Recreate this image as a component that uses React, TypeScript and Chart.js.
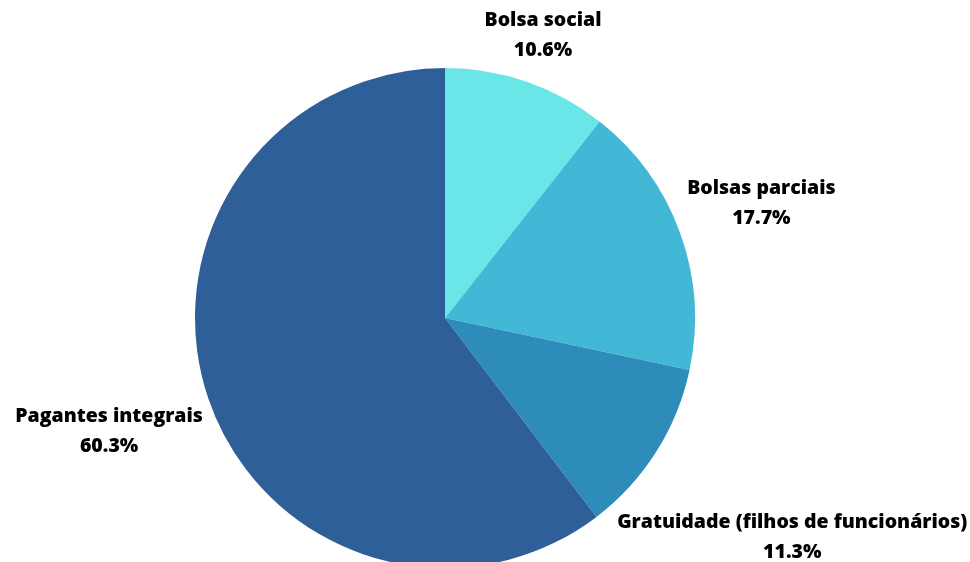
import React, { useEffect, useRef } from "react";
import { Chart, registerables } from "chart.js";

Chart.register(...registerables);

const categories = [
  "Bolsa social",
  "Bolsas parciais",
  "Gratuidade (filhos de funcionários)",
  "Pagantes integrais",
];
const values = [10.6, 17.7, 11.3, 60.3];
const valueLabels = ["10.6%", "17.7%", "11.3%", "60.3%"];
const colors = ["#6ae6e9", "#43b8d6", "#2d8cba", "#2f5f98"];

const W = 970;
const H = 562;
const CANVAS_H = 580;
const FONT = "800 19.5px 'Open Sans'";
const LINE_H = 30;
const GAP = 6;

const labelPlugin = {
  id: "outsideLabels",
  afterDraw(chart: any) {
    const ctx = chart.ctx;
    const meta = chart.getDatasetMeta(0);
    ctx.save();
    ctx.font = FONT;
    ctx.fillStyle = "#000";
    ctx.textAlign = "center";
    ctx.textBaseline = "middle";
    meta.data.forEach((arc: any, i: number) => {
      const { x: cx, y: cy, outerRadius: r, startAngle, endAngle } = arc.getProps(
        ["x", "y", "outerRadius", "startAngle", "endAngle"],
        true
      );
      const mid = (startAngle + endAngle) / 2;
      const dx = Math.cos(mid);
      const dy = Math.sin(mid);
      const lines = [categories[i], valueLabels[i]];
      const w = Math.max(...lines.map((l) => ctx.measureText(l).width));
      const h = LINE_H * lines.length;
      // distance from pie centre to nearest point of a box centred at (bx, by)
      const dist = (bx: number, by: number) => {
        const px = Math.max(bx - w / 2, Math.min(cx, bx + w / 2));
        const py = Math.max(by - h / 2, Math.min(cy, by + h / 2));
        return Math.hypot(px - cx, py - cy);
      };
      let t = r;
      while (dist(cx + t * dx, cy + t * dy) < r + GAP && t < 2000) t += 0.5;
      const x = cx + t * dx;
      const y = cy + t * dy;
      lines.forEach((l, k) => {
        ctx.fillText(l, x, y - h / 2 + LINE_H * (k + 0.5));
      });
    });
    ctx.restore();
  },
};

export default function App() {
  const ref = useRef<HTMLCanvasElement | null>(null);
  useEffect(() => {
    document.body.style.margin = "0";
    const chart = new Chart(ref.current as HTMLCanvasElement, {
      type: "pie",
      data: {
        labels: categories,
        datasets: [
          {
            data: values,
            backgroundColor: colors,
            borderWidth: 0,
          },
        ],
      },
      options: {
        responsive: false,
        animation: false,
        layout: { padding: { top: 68, bottom: CANVAS_H - 568, left: 195, right: W - 695 } },
        plugins: {
          legend: { display: false },
          tooltip: { enabled: false },
        },
      },
      plugins: [labelPlugin],
    });
    return () => chart.destroy();
  }, []);
  return (
    <div style={{ width: W, height: H, overflow: "hidden", background: "#fff" }}>
      <canvas ref={ref} width={W} height={CANVAS_H} style={{ display: "block" }} />
    </div>
  );
}
